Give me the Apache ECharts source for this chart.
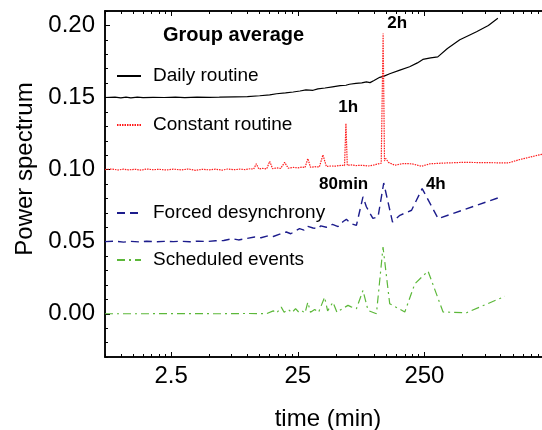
<!DOCTYPE html>
<html>
<head>
<meta charset="utf-8">
<script src="https://cdn.jsdelivr.net/npm/echarts@6/dist/echarts.min.js"></script>
<style>
html,body{margin:0;padding:0;background:#fff}
#main{width:542px;height:430px}
</style>
</head>
<body>
<div id="main"></div>
<script>
// period (min) and power, each curve keeps its vertical offset as plotted
var dailyT = [0.75,0.9,1.0,1.1,1.2,1.35,1.5,1.8,2.2,2.7,3.2,4,5,6,8,10,12.5,15,17,20,23,26,29,33,36,41,47,54,60,64,72,80,87,93,100,111,120,133,160,191,220,243,280,319,380,476,560,645,800,951];
var dailyP = [0.1500,0.1503,0.1497,0.1503,0.1498,0.1502,0.1499,0.1501,0.1500,0.1502,0.1499,0.1503,0.1501,0.1502,0.1505,0.1506,0.1512,0.1518,0.1526,0.1532,0.1538,0.1545,0.1553,0.1550,0.1560,0.1566,0.1574,0.1582,0.1585,0.1592,0.1598,0.1602,0.1608,0.1603,0.1618,0.1640,0.1648,0.1665,0.1690,0.1713,0.1740,0.1764,0.1775,0.1782,0.1840,0.1900,0.1930,0.1956,0.2000,0.2049];

var constT = [0.75,0.85,0.95,1.05,1.15,1.3,1.45,1.6,1.8,2.0,2.3,2.6,3.0,3.4,3.9,4.4,5.0,5.6,6.3,7.0,7.8,8.7,9.6,10.6,11.2,11.75,12.3,13.2,14.2,15.0,15.8,17,18.3,19.7,21,23,25,27,28.5,30,31.5,34,37,39.5,42,46,50,55,58.5,60,61.5,66,72,80,90,100,108,114,116,118,121,124,130,146,170,200,237,276,350,506,800,1148,1422,2110,2500];
var constP = [0.1000,0.1004,0.0997,0.1003,0.0998,0.1002,0.0996,0.1004,0.0999,0.1002,0.0997,0.1003,0.0998,0.1004,0.0995,0.1002,0.0998,0.1003,0.0996,0.1004,0.0999,0.1003,0.1000,0.1006,0.1003,0.1040,0.1004,0.1008,0.1005,0.1057,0.1006,0.1012,0.1008,0.1050,0.1010,0.1015,0.1012,0.1018,0.1014,0.1076,0.1016,0.1020,0.1018,0.1102,0.1022,0.1025,0.1024,0.1030,0.1028,0.1320,0.1030,0.1032,0.1028,0.1030,0.1025,0.1032,0.1040,0.1044,0.1040,0.1944,0.1060,0.1076,0.1050,0.1030,0.1042,0.1040,0.1023,0.1040,0.1045,0.1050,0.1048,0.1046,0.1070,0.1106,0.1120];

var forcedT = [0.75,0.9,1.05,1.2,1.4,1.6,1.9,2.2,2.6,3.0,3.5,4.1,4.8,5.6,6.5,7.6,8.5,9.6,11.4,12.8,14.5,16,18,20.3,22,24,25.8,28,30,33,36,38,42,47,52,57,60.5,66,72.6,81.8,87,98,107.6,119.3,140,160,198,240,321,988];
var forcedP = [0.0500,0.0503,0.0497,0.0502,0.0498,0.0503,0.0499,0.0502,0.0500,0.0503,0.0499,0.0504,0.0501,0.0506,0.0508,0.0521,0.0512,0.0520,0.0532,0.0527,0.0540,0.0536,0.0552,0.0567,0.0555,0.0575,0.0590,0.0580,0.0606,0.0595,0.0590,0.0610,0.0600,0.0620,0.0605,0.0640,0.0655,0.0625,0.0613,0.0811,0.0742,0.0661,0.0672,0.0907,0.0636,0.0683,0.0718,0.0868,0.0660,0.0808];

var schedT = [0.75,1.5,3,6,10,14.1,16,17,18.5,19.5,21,22.5,24,25.5,27,28.5,30,31.5,34,36.5,40.7,43,47.4,51,55,62.3,66,72.6,81.8,89.7,104.5,117.8,133,175,210,267,351,538,1081];
var schedP = [0,0,0.0001,0,0.0002,0,0.0020,0.0005,0.0046,0.0010,0.0030,0.0008,0.0035,0.0010,0.0020,0.0005,0.0080,0.0010,0.0030,0.0010,0.0115,0.0020,0.0080,0.0010,0.0030,0.0058,0.0048,0.0035,0.0162,0.0023,0,0.0463,0.0070,0.0012,0.0208,0.0296,0.0012,0.0007,0.0121];

var seriesNames = ['Daily routine','Constant routine','Forced desynchrony','Scheduled events'];
var xTickLabels = [2.5, 25, 250];
var yTickLabels = [0, 0.05, 0.10, 0.15, 0.20];
var annoText = ['2h','1h','80min','4h'];
var annoT = [152.6, 62.5, 57.6, 307.6];
var annoP = [0.2016, 0.1429, 0.0896, 0.0901];

var FONT = 'Liberation Sans';
var lg = Math.log10;

function pairs(ts, ps) {
	return ts.map(function(t, i){ return [lg(t), ps[i]]; });
}

// minor log ticks inside each 2.5-decade
var minorX = [];
[0.25, 2.5, 25, 250].forEach(function(b){
	for (var k = 2; k <= 9; k++) minorX.push(lg(b * k));
});
var minorY = [];
for (var v = -3; v <= 21; v++) { if (v % 5 !== 0) minorY.push(v / 100); }

var chart = echarts.init(document.getElementById('main'));

var xMin = lg(0.75), xMax = lg(2500);
function xAx(pos, major, showLabel) {
	return {
		type: 'value', position: pos, min: xMin, max: xMax,
		axisLine: { show: true, onZero: false, lineStyle: { color: '#000', width: 1.5 } },
		axisTick: { show: true, inside: true, length: major ? 5 : 3, lineStyle: { color: '#000', width: 1 },
			customValues: major ? xTickLabels.map(lg) : minorX },
		axisLabel: { show: showLabel, customValues: xTickLabels.map(lg), margin: 7,
			fontFamily: FONT, fontSize: 24, color: '#000',
			formatter: function(v){ return String(+Math.pow(10, v).toPrecision(3)); } },
		splitLine: { show: false }
	};
}
var xAxes = [xAx('bottom', true, true), xAx('bottom', false, false), xAx('top', true, false), xAx('top', false, false)];
xAxes[0].name = 'time (min)';
xAxes[0].nameLocation = 'middle';
xAxes[0].nameGap = 50;
xAxes[0].nameTextStyle = { fontFamily: FONT, fontSize: 24, color: '#000' };

function yAx(major) {
	return {
		type: 'value', min: -0.03, max: 0.21, position: 'left',
		axisLine: { show: true, onZero: false, lineStyle: { color: '#000', width: 1.5 } },
		axisTick: { show: true, inside: true, length: major ? 5 : 3, lineStyle: { color: '#000', width: 1 },
			customValues: major ? yTickLabels : minorY },
		axisLabel: { show: major, customValues: yTickLabels, margin: 10,
			fontFamily: FONT, fontSize: 24, color: '#000',
			formatter: function(v){ return v.toFixed(2); } },
		splitLine: { show: false }
	};
}
var yAxes = [yAx(true), yAx(false)];
yAxes[0].name = 'Power spectrum';
yAxes[0].nameLocation = 'middle';
yAxes[0].nameGap = 67;
yAxes[0].nameTextStyle = { fontFamily: FONT, fontSize: 24, color: '#000', padding: [0, 0, 0, 30] };

var styles = [
	{ color: '#000000', width: 1.2, type: 'solid' },
	{ color: '#ff1a1a', width: 1.2, type: [1.5, 1] },
	{ color: '#1c1c8c', width: 1.4, type: [8, 5] },
	{ color: '#5cb83a', width: 1.2, type: [8, 4, 2, 4] }
];
var datas = [pairs(dailyT, dailyP), pairs(constT, constP), pairs(forcedT, forcedP), pairs(schedT, schedP)];

var annoPoints = annoText.map(function(txt, i){
	return { coord: [lg(annoT[i]), annoP[i]], value: txt };
});

var series = seriesNames.map(function(name, i){
	var s = {
		name: name, type: 'line', xAxisIndex: 0, yAxisIndex: 0,
		data: datas[i], symbol: 'none', smooth: false, animation: false,
		lineStyle: styles[i], itemStyle: { color: styles[i].color }
	};
	if (i === 0) {
		s.markPoint = {
			symbol: 'circle', symbolSize: 1, itemStyle: { color: 'rgba(0,0,0,0)' },
			label: { show: true, position: 'inside', formatter: '{c}', color: '#000',
				fontFamily: FONT, fontSize: 17, fontWeight: 'bold' },
			data: annoPoints
		};
	}
	return s;
});

var legendCenters = [76, 125, 213, 260];
var legends = seriesNames.map(function(name, i){
	return {
		data: [name], left: 116, top: legendCenters[i] - 10, orient: 'vertical', padding: 0,
		itemWidth: 24, itemHeight: 14, selectedMode: false,
		itemStyle: { opacity: 0 },
		textStyle: { fontFamily: FONT, fontSize: 19, color: '#000', lineHeight: 20, padding: [0, 0, 0, 7] }
	};
});

chart.setOption({
	animation: false,
	title: { text: 'Group average', left: 163, top: 25, padding: 0,
		textStyle: { fontFamily: FONT, fontSize: 20, fontWeight: 'bold', color: '#000' } },
	grid: { left: 105, top: 11, right: -9, bottom: 73, containLabel: false, outerBoundsMode: 'none' },
	legend: legends,
	xAxis: xAxes,
	yAxis: yAxes,
	series: series
});
</script>
</body>
</html>
